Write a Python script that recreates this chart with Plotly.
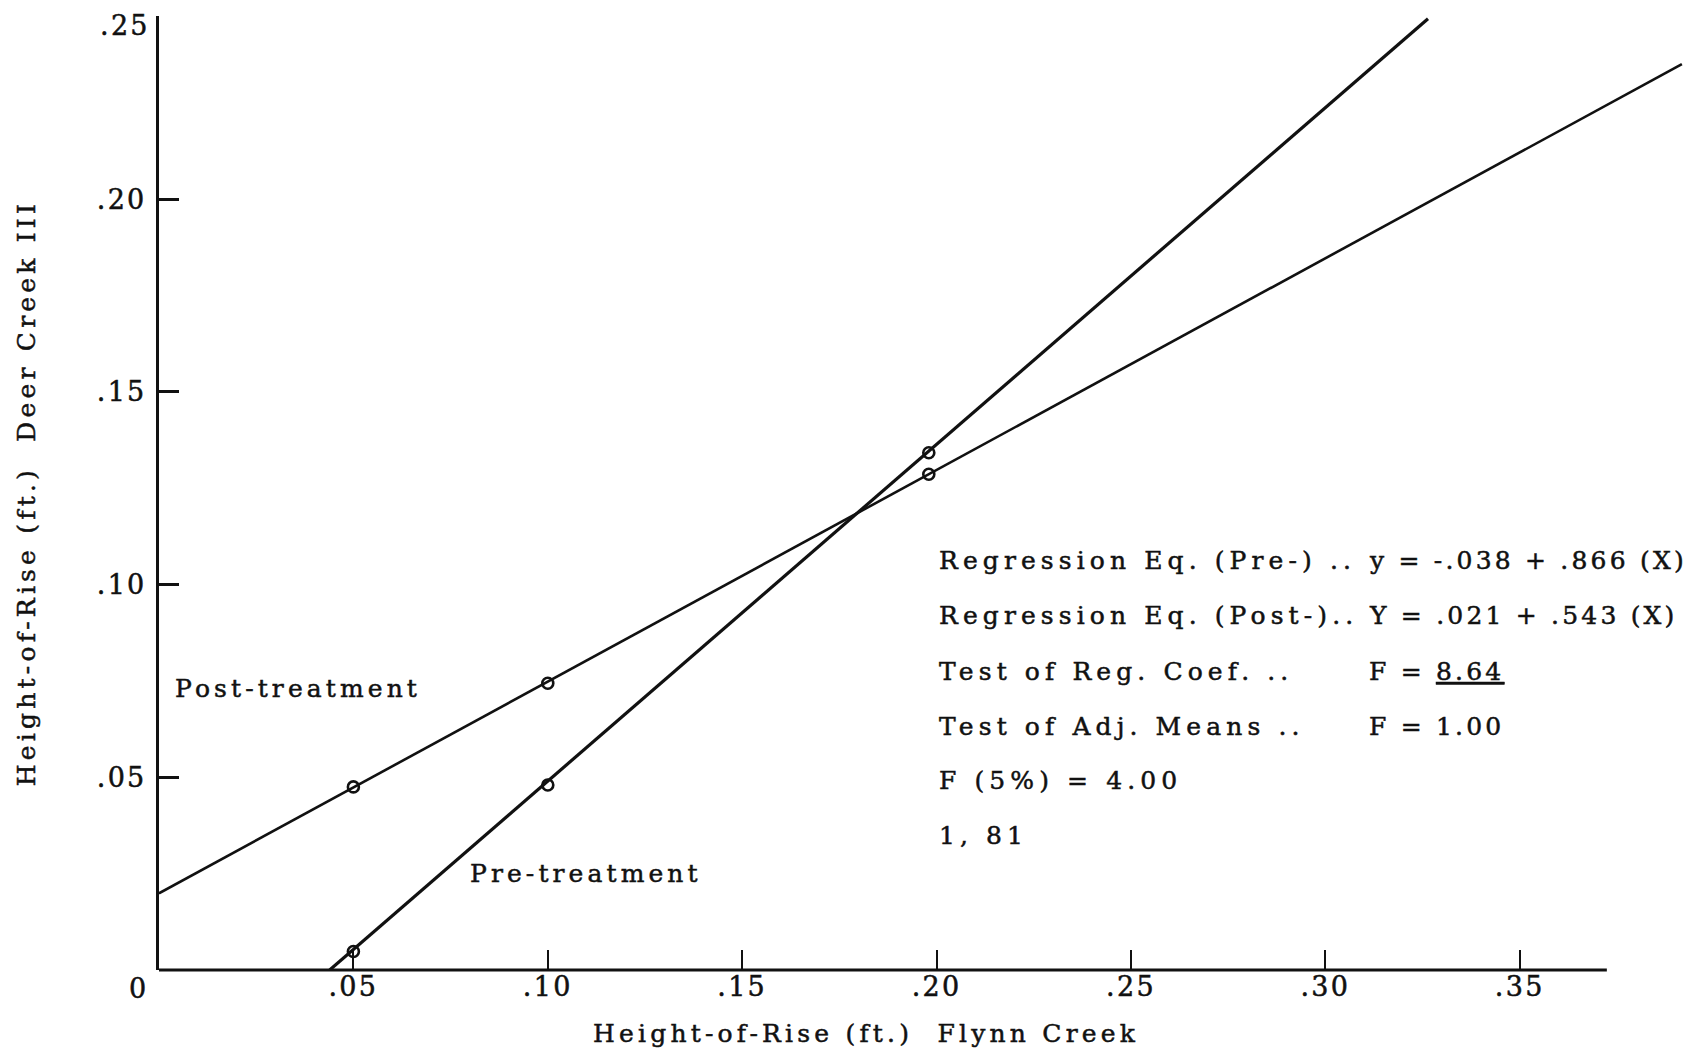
import plotly.graph_objects as go

# ---- data ----
pre_x = [0.05, 0.10, 0.198]
pre_y = [0.0048, 0.048, 0.1342]
post_x = [0.05, 0.10, 0.198]
post_y = [0.0475, 0.0744, 0.1286]

pre_line_x = [0.0439, 0.3264]
pre_line_y = [0.0, 0.2468]
post_line_x = [0.0, 0.3917]
post_line_y = [0.0199, 0.2350]

x_tick_vals = [0.05, 0.10, 0.15, 0.20, 0.25, 0.30, 0.35]
x_tick_labels = [".05", ".10", ".15", ".20", ".25", ".30", ".35"]
y_tick_vals = [0.05, 0.10, 0.15, 0.20]
y_tick_labels = [".05", ".10", ".15", ".20"]
y_top_label = ".25"
origin_label = "0"
x_axis_end = 0.3724

stats_left = ["Regression Eq. (Pre-) ..", "Regression Eq. (Post-)..",
              "Test of Reg. Coef. ..", "Test of Adj. Means ..",
              "F (5%) = 4.00", "1, 81"]
stats_right = ["y = -.038 + .866 (X)", "Y = .021 + .543 (X)",
               "F = <u>8.64</u>", "F = 1.00", "", ""]

FONT = "DejaVu Serif"
INK = "#111111"


def sp(t, ls=4):
    return (f'<span style="letter-spacing:{ls}px;stroke:{INK};stroke-width:0.5px">'
            f'{t}</span>')


fig = go.Figure()
fig.add_trace(go.Scatter(x=post_line_x, y=post_line_y, mode="lines",
                         line=dict(color=INK, width=2.6), showlegend=False))
fig.add_trace(go.Scatter(x=pre_line_x, y=pre_line_y, mode="lines",
                         line=dict(color=INK, width=3.2), showlegend=False))
for xs, ys in ((post_x, post_y), (pre_x, pre_y)):
    fig.add_trace(go.Scatter(x=xs, y=ys, mode="markers",
                             marker=dict(symbol="circle-open", size=11, color=INK,
                                         line=dict(width=2.6, color=INK)),
                             showlegend=False, cliponaxis=False))

tickfont = dict(family=FONT, size=27, color=INK)

fig.update_layout(
    width=1696, height=1051,
    paper_bgcolor="white", plot_bgcolor="white",
    margin=dict(l=151, r=19, t=8, b=89),
    font=dict(family=FONT, color=INK),
    xaxis=dict(range=[0, 0.3925], showgrid=False, zeroline=False, showline=False,
               tickmode="array", tickvals=x_tick_vals,
               ticktext=[sp(t, 2.3) for t in x_tick_labels],
               ticks="inside", ticklen=20, tickwidth=2.2, tickcolor=INK,
               tickfont=tickfont, ticklabelstandoff=-2),
    yaxis=dict(range=[0, 0.2475], showgrid=False, zeroline=False,
               showline=True, linewidth=3, linecolor=INK,
               tickmode="array", tickvals=y_tick_vals,
               ticktext=[sp(t, 2.3) for t in y_tick_labels],
               ticks="inside", ticklen=20, tickwidth=2.6, tickcolor=INK,
               tickfont=tickfont, ticklabelstandoff=4),
)

fig.add_shape(type="line", xref="x", yref="paper", x0=0, x1=x_axis_end, y0=0, y1=0,
              line=dict(color=INK, width=3))

ann_font = dict(family=FONT, size=25, color=INK)
anns = []
# extra tick labels
anns.append(dict(xref="paper", yref="y", x=0, y=0.2450, xanchor="right", yanchor="middle",
                 xshift=-7, text=sp(y_top_label, 2.3), showarrow=False, font=tickfont))
anns.append(dict(xref="x", yref="paper", x=0, y=0, xanchor="center", yanchor="middle",
                 xshift=-22, yshift=-18, text=sp(origin_label, 0), showarrow=False,
                 font=tickfont))
# axis titles
anns.append(dict(xref="paper", yref="paper", x=0.5, y=0, xanchor="center", yanchor="middle",
                 xshift=-56, yshift=-63,
                 text=sp("Height-of-Rise (ft.)&nbsp;&nbsp;Flynn Creek", 4.2),
                 showarrow=False, font=ann_font))
anns.append(dict(xref="paper", yref="y", x=0, y=0.1237, xanchor="center", yanchor="middle",
                 xshift=-133, textangle=-90,
                 text=sp("Height-of-Rise (ft.)&nbsp;&nbsp;Deer Creek III", 4.2),
                 showarrow=False, font=ann_font))
# series labels
anns.append(dict(xref="x", yref="y", x=0.0062, y=0.0713, xanchor="left", yanchor="middle",
                 xshift=-10, yshift=7, text=sp("Post-treatment", 4.1), showarrow=False,
                 font=ann_font))
anns.append(dict(xref="x", yref="y", x=0.082, y=0.0233, xanchor="left", yanchor="middle",
                 xshift=-10, yshift=7, text=sp("Pre-treatment", 4.1), showarrow=False,
                 font=ann_font))
# statistics block
line_y = [0.1043, 0.0902, 0.0757, 0.0614, 0.0474, 0.0331]
for ly, lt, rt in zip(line_y, stats_left, stats_right):
    anns.append(dict(xref="x", yref="y", x=0.2027, y=ly, xanchor="left", yanchor="middle",
                     xshift=-10, yshift=7, text=sp(lt, 5.1), showarrow=False, font=ann_font))
    if rt:
        anns.append(dict(xref="x", yref="y", x=0.3133, y=ly, xanchor="left", yanchor="middle",
                         xshift=-10, yshift=7, text=sp(rt, 3.2), showarrow=False,
                         font=ann_font))
fig.update_layout(annotations=anns)

fig.write_html("out.html")
